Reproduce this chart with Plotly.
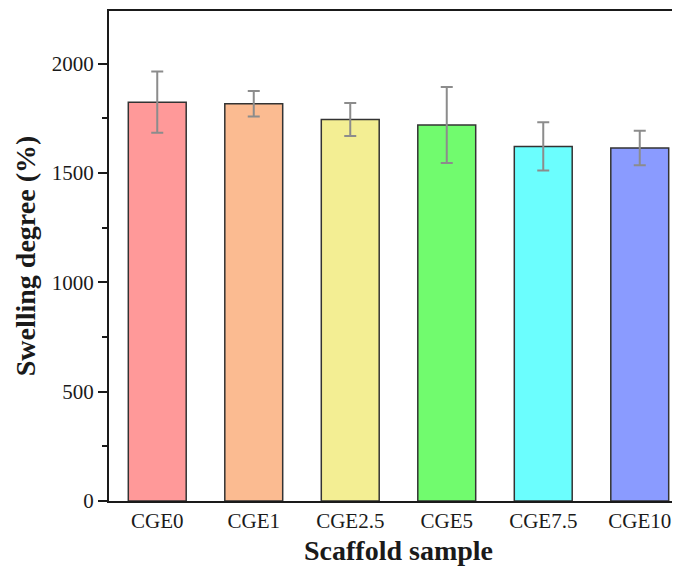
import plotly.graph_objects as go

samples = ["CGE0", "CGE1", "CGE2.5", "CGE5", "CGE7.5", "CGE10"]
swelling = [1823, 1816, 1744, 1719, 1621, 1614]
errors = [140, 58, 75, 174, 110, 79]
colors = ["#FF9999", "#FBBB91", "#F3EE93", "#71FB6E", "#6BFEFE", "#8A9BFF"]
y_ticks = [0, 500, 1000, 1500, 2000]
y_minor = [250, 750, 1250, 1750]

font_family = "Liberation Serif"

fig = go.Figure()
fig.add_trace(go.Bar(
    x=samples,
    y=swelling,
    width=0.6,
    marker=dict(color=colors, line=dict(color="#333333", width=1.5)),
    error_y=dict(type="data", array=errors, visible=True,
                 color="#8C8C8C", thickness=2, width=6),
))

fig.update_layout(
    width=680, height=572,
    margin=dict(l=101, r=0, t=3, b=79),
    paper_bgcolor="white", plot_bgcolor="white",
    showlegend=False,
    font=dict(family=font_family, color="#1a1a1a", size=20),
    bargap=0.4,
)
fig.update_xaxes(
    range=[-0.5, 5.5],
    showline=True, linecolor="#1a1a1a", linewidth=2, mirror=True,
    ticks="", showgrid=False,
    tickfont=dict(family=font_family, size=21),
    title=dict(text="<b>Scaffold sample</b>", font=dict(family=font_family, size=28), standoff=8),
)
fig.update_yaxes(
    range=[0, 2240],
    tickvals=y_ticks,
    showline=True, linecolor="#1a1a1a", linewidth=2, mirror=False,
    ticks="outside", ticklen=9, tickwidth=1.5, tickcolor="#1a1a1a",
    minor=dict(tickvals=y_minor, ticks="outside", ticklen=5, tickwidth=1.5, tickcolor="#1a1a1a"),
    showgrid=False, zeroline=False,
    tickfont=dict(family=font_family, size=21),
    title=dict(text="<b>Swelling degree (%)</b>", font=dict(family=font_family, size=28), standoff=8),
)

fig.write_html("out.html")
